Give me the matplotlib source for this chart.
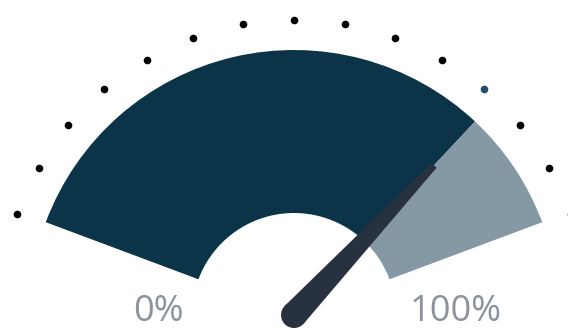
import numpy as np
import matplotlib.pyplot as plt
from matplotlib.patches import Wedge, Circle, Polygon

# gauge data
value = 0.81
min_label = "0%"
max_label = "100%"
dot_angles = [20, 30, 40, 50, 60, 70, 80, 90, 100, 110, 120, 130, 140, 150, 160]
highlight_dot = 50

start_deg, end_deg = 159.5, 20.5
r_out, r_in = 265, 102
dark = "#0b3449"
light = "#8499a4"
needle_col = "#283140"

fig = plt.figure(figsize=(5.68, 3.30), dpi=100)
ax = fig.add_axes([0, 0, 1, 1])
ax.set_xlim(-294, 274)
ax.set_ylim(-15, 315)
ax.set_aspect("equal")
ax.axis("off")

val_deg = start_deg - value * (start_deg - end_deg)
ax.add_patch(Wedge((0, 0), r_out, val_deg, start_deg, width=r_out - r_in, color=dark, lw=0))
ax.add_patch(Wedge((0, 0), r_out, end_deg, val_deg, width=r_out - r_in, color=light, lw=0))

# dotted ring
for a in dot_angles:
    t = np.radians(a)
    c = "#1d4e6e" if a == highlight_dot else "black"
    ax.plot(295 * np.cos(t), 295 * np.sin(t), "o", ms=5.5, color=c, mec="none")

# needle
t = np.radians(val_deg)
n = np.array([-np.sin(t), np.cos(t)])
d = np.array([np.cos(t), np.sin(t)])
base_w, tip_w, length = 13, 3.5, 205
pts = [n * base_w, d * length + n * tip_w, d * length - n * tip_w, -n * base_w]
ax.add_patch(Polygon(pts, closed=True, color=needle_col, lw=0))
ax.add_patch(Circle((0, 0), base_w, color=needle_col, lw=0))

ax.text(-136, -6, min_label, ha="center", va="baseline", fontsize=26,
        color="#8c939d", family="Open Sans")
ax.text(162, -6, max_label, ha="center", va="baseline", fontsize=26,
        color="#8c939d", family="Open Sans")

fig.savefig("out.png", dpi=100)
